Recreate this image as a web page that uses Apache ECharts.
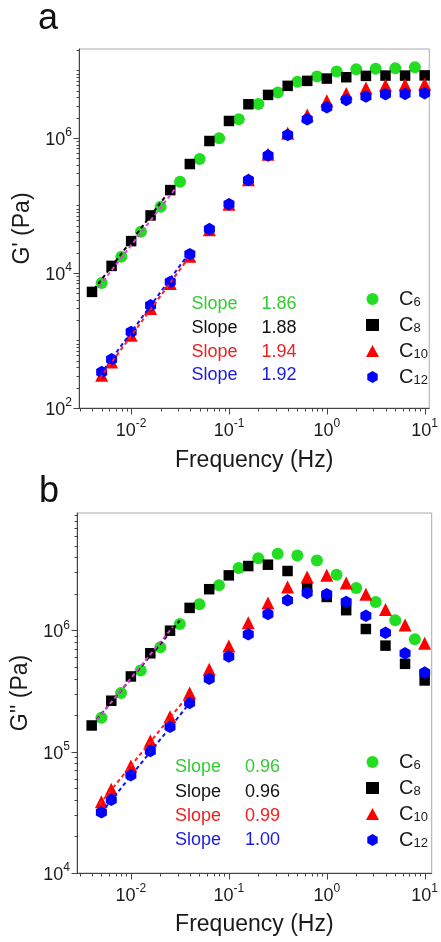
<!DOCTYPE html>
<html><head><meta charset="utf-8">
<script src="https://cdn.jsdelivr.net/npm/echarts@6/dist/echarts.min.js"></script>
<style>html,body{margin:0;padding:0;background:#fff;}#c{width:441px;height:942px;}</style>
</head><body><div id="c"></div>
<script>
// ---------- data ----------
const seriesNames = ['C6', 'C8', 'C10', 'C12'];
const freqC6 = [0.005, 0.00794, 0.0126, 0.02, 0.0316, 0.0501, 0.0794, 0.126, 0.2, 0.316, 0.501, 0.794, 1.26, 2.0, 3.16, 5.01, 7.94];
const freqC8 = [0.00398, 0.00631, 0.01, 0.0158, 0.0251, 0.0398, 0.0631, 0.1, 0.158, 0.251, 0.398, 0.631, 1.0, 1.58, 2.51, 3.98, 6.31, 10.0];
const freqC10C12 = [0.005, 0.00631, 0.01, 0.0158, 0.0251, 0.0398, 0.0631, 0.1, 0.158, 0.251, 0.398, 0.631, 1.0, 1.58, 2.51, 3.98, 6.31, 10.0];

// panel a: G' (Pa)
const gpC6 = [7130, 17340, 40740, 95700, 224900, 487500, 991000, 1.89e6, 3.19e6, 4.70e6, 6.78e6, 8.13e6, 9.64e6, 1.045e7, 1.057e7, 1.081e7, 1.12e7];
const gpC8 = [5250, 12740, 29650, 71290, 169000, 411100, 901600, 1.786e6, 3.16e6, 4.345e6, 5.916e6, 7.015e6, 7.586e6, 7.943e6, 8.318e6, 8.4e6, 8.4e6, 8.45e6];
const gpC10 = [305, 480, 1194, 2972, 6982, 17740, 43650, 104700, 239900, 575400, 1.175e6, 2.188e6, 3.548e6, 4.571e6, 5.495e6, 6.026e6, 6.166e6, 6.31e6];
const gpC12 = [341, 526, 1340, 3327, 7379, 19010, 44670, 104700, 238200, 549500, 1.109e6, 1.892e6, 2.851e6, 3.664e6, 4.102e6, 4.446e6, 4.498e6, 4.603e6];

// panel b: G'' (Pa)
const gppC6 = [190100, 304800, 466700, 726100, 1.127e6, 1.644e6, 2.35e6, 3.258e6, 3.936e6, 4.276e6, 4.14e6, 3.767e6, 2.877e6, 2.234e6, 1.714e6, 1.213e6, 843300];
const gppC8 = [164400, 263000, 416900, 647100, 993100, 1.531e6, 2.183e6, 2.838e6, 3.388e6, 3.475e6, 3.083e6, 2.275e6, 1.884e6, 1.466e6, 1.026e6, 748200, 529700, 386400];
const gppC10 = [38640, 49090, 76210, 122200, 193600, 304800, 478600, 743000, 1.153e6, 1.683e6, 2.275e6, 2.748e6, 2.838e6, 2.455e6, 1.986e6, 1.486e6, 1.104e6, 781600];
const gppC12 = [31620, 40090, 63970, 101200, 160300, 252300, 399000, 608100, 926800, 1.361e6, 1.77e6, 2.032e6, 1.986e6, 1.714e6, 1.318e6, 955000, 647100, 448700];

// fitted power-law lines (end points)
const fitAFreqC6 = [0.00468, 0.0282], fitAValC6 = [6266, 177000];
const fitAFreqC8 = [0.00417, 0.0263], fitAValC8 = [5728, 184500];
const fitAFreqC10 = [0.00479, 0.038], fitAValC10 = [275, 16220];
const fitAFreqC12 = [0.00479, 0.038], fitAValC12 = [309, 18620];
const fitBFreqC6 = [0.00447, 0.0269], fitBValC6 = [182000, 1.07e6];
const fitBFreqC8 = [0.00447, 0.0316], fitBValC8 = [183700, 1.2e6];
const fitBFreqC10 = [0.00479, 0.038], fitBValC10 = [36900, 287000];
const fitBFreqC12 = [0.0055, 0.0398], fitBValC12 = [34670, 251200];

const slopeA = ['1.86', '1.88', '1.94', '1.92'];
const slopeB = ['0.96', '0.96', '0.99', '1.00'];

// axis ranges & ticks
const xRangeA = [0.002931, 11.14], yRangeA = [100, 2.08e7];
const xRangeB = [0.002818, 11.8], yRangeB = [1e4, 9.27e6];
const xDecades = [-3, -2, -1, 0, 1];
const yDecadesA = [2, 3, 4, 5, 6, 7];
const yDecadesB = [4, 5, 6];
const yLabelExpA = [2, 4, 6];
const yLabelExpB = [4, 5, 6];
const xLabelExp = [-2, -1, 0, 1];

// ---------- styling ----------
const FONT = '"Liberation Sans", Arial, Helvetica, sans-serif';
const colors = ['#22dd22', '#000000', '#ff0000', '#0000ff'];
const fitColors = ['#e040e0', '#000000', '#ff2020', '#1010ff'];
const slopeColors = ['#33cc33', '#111111', '#ee2020', '#1a1ae6'];
const HEX = 'path://M0,0 L8.66,5 L8.66,15 L0,20 L-8.66,15 L-8.66,5 Z';
const symbols = ['circle', 'rect', 'triangle', HEX];
const symSizes = [12, 10.5, 13, [11, 12.5]];

function powLabel(v, allowed) {
  const lg = Math.log10(v);
  const e = Math.round(lg);
  if (Math.abs(lg - e) > 1e-6 || allowed.indexOf(e) < 0) return '';
  return '{b|10}{p|' + e + '}';
}
const labelRich = {
  b: { fontSize: 18, lineHeight: 22, verticalAlign: 'bottom', fontFamily: FONT, color: '#1a1a1a' },
  p: { fontSize: 12, lineHeight: 10, verticalAlign: 'top', fontFamily: FONT, color: '#1a1a1a' }
};

function buildTicks(decades, range) {
  const out = [];
  decades.forEach(d => {
    for (let m = 1; m <= 9; m++) {
      const v = m * Math.pow(10, d);
      if (v >= range[0] * 0.999 && v <= range[1] * 1.001) out.push([v, m === 1]);
    }
  });
  return out;
}

function tickSeries(gi, dir, ticks, fixedVal, majorSet) {
  return {
    type: 'custom', xAxisIndex: gi, yAxisIndex: gi, silent: true, clip: false, z: 5,
    data: ticks.map(t => {
      const lg = Math.round(Math.log10(t[0]));
      const major = t[1] && majorSet.indexOf(lg) >= 0;
      return dir === 'x' ? [t[0], fixedVal, major ? 6 : 3] : [fixedVal, t[0], major ? 6 : 3];
    }),
    renderItem: (params, api) => {
      const p = api.coord([api.value(0), api.value(1)]);
      const len = api.value(2);
      const x = Math.round(p[0]) + 0.5, y = Math.round(p[1]) + 0.5;
      const shape = dir === 'x' ? { x1: x, y1: y, x2: x, y2: y + len } : { x1: x, y1: y, x2: x - len, y2: y };
      return { type: 'line', shape: shape, style: { stroke: '#444', lineWidth: 1 } };
    }
  };
}

function scatter(gi, name, freq, vals, k) {
  return {
    type: 'scatter', name: name, xAxisIndex: gi, yAxisIndex: gi,
    symbol: symbols[k], symbolSize: symSizes[k],
    itemStyle: { color: colors[k], opacity: 1 },
    data: freq.map((f, i) => [f, vals[i]]), z: 2, animation: false
  };
}
function fitLine(gi, fx, fy, k) {
  return {
    type: 'line', name: 'fit' + gi + k, xAxisIndex: gi, yAxisIndex: gi,
    showSymbol: false, symbol: 'none', silent: true, z: 4, animation: false,
    lineStyle: { color: fitColors[k], width: 2, type: [4, 3] },
    data: fx.map((f, i) => [f, fy[i]])
  };
}

function xAxis(gi, range) {
  return {
    type: 'log', gridIndex: gi, min: range[0], max: range[1], logBase: 10,
    name: 'Frequency (Hz)', nameLocation: 'middle', nameGap: gi === 0 ? 41 : 40,
    nameTextStyle: { fontSize: 23, fontFamily: FONT, color: '#1a1a1a' },
    axisLine: { lineStyle: { color: '#444', width: 1 } },
    axisTick: { show: false }, minorTick: { show: false },
    splitLine: { show: false },
    axisLabel: { margin: 10, formatter: v => powLabel(v, xLabelExp), rich: labelRich }
  };
}
function yAxis(gi, range, name, allowed, gap) {
  return {
    type: 'log', gridIndex: gi, min: range[0], max: range[1], logBase: 10,
    name: name, nameLocation: 'middle', nameGap: gap,
    nameTextStyle: { fontSize: 23, fontFamily: FONT, color: '#1a1a1a' },
    axisLine: { lineStyle: { color: '#444', width: 1 } },
    axisTick: { show: false }, minorTick: { show: false },
    splitLine: { show: false },
    axisLabel: { margin: 7, formatter: v => powLabel(v, allowed), rich: labelRich }
  };
}

function legend(top) {
  return {
    data: seriesNames, orient: 'vertical', left: 366, top: top, padding: 0,
    itemWidth: 13, itemHeight: 12, itemGap: 6, selectedMode: false, symbolKeepAspect: true,
    formatter: n => '{c|C}{s|' + n.slice(1) + '}',
    textStyle: {
      rich: {
        c: { fontSize: 20, lineHeight: 20, verticalAlign: 'top', fontFamily: FONT, color: '#1a1a1a', padding: [0, 0, 0, 15] },
        s: { fontSize: 13, lineHeight: 12, verticalAlign: 'bottom', fontFamily: FONT, color: '#1a1a1a' }
      }
    }
  };
}

function slopeTexts(xWord, xNum, ys, vals) {
  const out = [];
  vals.forEach((v, i) => {
    out.push({ type: 'text', x: xWord, y: ys[i], silent: true,
      style: { text: 'Slope', fill: slopeColors[i], font: '18px ' + FONT, verticalAlign: 'middle' } });
    out.push({ type: 'text', x: xNum, y: ys[i], silent: true,
      style: { text: v, fill: slopeColors[i], font: '18px ' + FONT, verticalAlign: 'middle' } });
  });
  return out;
}

const series = [];
[[freqC6, gpC6], [freqC8, gpC8], [freqC10C12, gpC10], [freqC10C12, gpC12]].forEach((d, k) => series.push(scatter(0, seriesNames[k], d[0], d[1], k)));
[[freqC6, gppC6], [freqC8, gppC8], [freqC10C12, gppC10], [freqC10C12, gppC12]].forEach((d, k) => series.push(scatter(1, seriesNames[k], d[0], d[1], k)));
series.push(fitLine(0, fitAFreqC8, fitAValC8, 1));
series.push(fitLine(0, fitAFreqC6, fitAValC6, 0));
series.push(fitLine(0, fitAFreqC10, fitAValC10, 2));
series.push(fitLine(0, fitAFreqC12, fitAValC12, 3));
series.push(fitLine(1, fitBFreqC8, fitBValC8, 1));
series.push(fitLine(1, fitBFreqC6, fitBValC6, 0));
series.push(fitLine(1, fitBFreqC10, fitBValC10, 2));
series.push(fitLine(1, fitBFreqC12, fitBValC12, 3));
series.push(tickSeries(0, 'x', buildTicks(xDecades, xRangeA), yRangeA[0], xLabelExp));
series.push(tickSeries(0, 'y', buildTicks(yDecadesA, yRangeA), xRangeA[0], yLabelExpA));
series.push(tickSeries(1, 'x', buildTicks(xDecades, xRangeB), yRangeB[0], xLabelExp));
series.push(tickSeries(1, 'y', buildTicks(yDecadesB, yRangeB), xRangeB[0], yLabelExpB));

const option = {
  backgroundColor: '#fff',
  animation: false,
  grid: [
    { left: 79, top: 49, width: 358, height: 359, show: true, borderColor: '#aaa', borderWidth: 1, backgroundColor: 'transparent' },
    { left: 77, top: 513, width: 360, height: 360, show: true, borderColor: '#aaa', borderWidth: 1, backgroundColor: 'transparent' }
  ],
  xAxis: [xAxis(0, xRangeA), xAxis(1, xRangeB)],
  yAxis: [yAxis(0, yRangeA, "G' (Pa)", yLabelExpA, 45), yAxis(1, yRangeB, "G'' (Pa)", yLabelExpB, 44)],
  legend: [legend(289), legend(752)],
  graphic: [
    { type: 'text', x: 38, y: 19.5, silent: true, style: { text: 'a', font: '36px ' + FONT, fill: '#111', verticalAlign: 'middle' } },
    { type: 'text', x: 39, y: 492.5, silent: true, style: { text: 'b', font: '36px ' + FONT, fill: '#111', verticalAlign: 'middle' } }
  ].concat(slopeTexts(191.5, 261.5, [304, 328.3, 351.7, 375.3], slopeA))
   .concat(slopeTexts(175, 245, [767.3, 792.3, 815.7, 840], slopeB)),
  series: series
};

const chart = echarts.init(document.getElementById('c'), null, { renderer: 'canvas' });
chart.setOption(option);
</script>
</body></html>
